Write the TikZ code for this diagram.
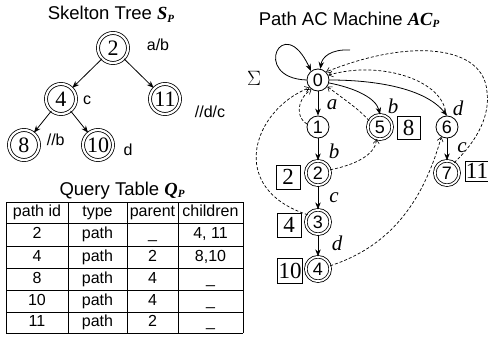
\documentclass[tikz,border=0pt]{standalone}
\usepackage{fontspec}
\setmainfont{Liberation Serif}
\newfontfamily\sansf{Liberation Sans}
\usetikzlibrary{arrows.meta}

% bold italic serif symbol with a small bold italic subscript
\newcommand{\symsub}[2]{{\rmfamily\bfseries\itshape #1\raisebox{-0.35ex}{\fontsize{11}{11}\selectfont #2}}}

\begin{document}
\begin{tikzpicture}[x=1pt,y=-1pt,line width=0.8pt,
  tip/.tip={Stealth[length=7pt,width=5.5pt]},
  barb/.tip={Straight Barb[length=4pt,width=6pt,line width=0.6pt]},
  ttl/.style={font=\sansf\fontsize{18.5}{18.5}\selectfont,anchor=base,inner sep=0pt},
  treenode/.style={circle,draw,double,double distance=2.2pt,minimum size=30pt,inner sep=0pt,
    font=\fontsize{22}{22}\selectfont},
  tlabel/.style={font=\sansf\fontsize{16}{16}\selectfont,inner sep=0pt},
  tedge/.style={-tip,shorten >=0.5pt},
  acnode/.style={circle,draw,minimum size=22pt,inner sep=0pt,font=\sansf\fontsize{18}{18}\selectfont},
  acfinal/.style={acnode,double,double distance=1.8pt,minimum size=24.4pt},
  idbox/.style={draw,rectangle,inner sep=0pt,font=\fontsize{23}{23}\selectfont},
  sym/.style={font=\itshape\fontsize{21}{21}\selectfont,inner sep=0pt},
  goto/.style={-tip},
  fail/.style={-barb,dashed,dash pattern=on 3pt off 2pt,line width=0.7pt},
  cell/.style={font=\sansf\fontsize{16}{16}\selectfont,inner sep=0pt,text height=11.5pt,text depth=3.5pt},
  grid/.style={line width=0.9pt}]

\useasboundingbox (0,0) rectangle (488,340);

% ---------- titles ----------
\node[ttl] (t1) at (111,19.5) {Skelton Tree \symsub{S}{P}};
\node[ttl] (t2) at (122,195) {Query Table \symsub{Q}{P}};
\node[ttl] (t3) at (349,25) {Path AC Machine \symsub{AC}{P}};

% ---------- skeleton tree ----------
\node[tlabel] (l2)  at (158,45)  {a/b};
\node[tlabel] (l4)  at (87,100)  {c};
\node[tlabel] (l11) at (210,112) {//d/c};
\node[tlabel,anchor=east] (l8) at (65,140) {//b};
\node[tlabel] (l10) at (128,150) {d};

\node[treenode] (s2)  at (113,48) {2};
\node[treenode] (s4)  at (61,99)  {4};
\node[treenode] (s11) at (165,99) {11};
\node[treenode,fill=white] (s8)  at (24,145) {8};
\node[treenode] (s10) at (98,145) {10};

\draw[tedge] (s2) -- (s4);
\draw[tedge] (s2) -- (s11);
\draw[tedge] (s4) -- (s8);
\draw[tedge] (s4) -- (s10);

% ---------- query table ----------
\foreach \y in {202,223.5,246,268,290,312,333}
  \draw[grid] (6,\y) -- (243,\y);
\foreach \x in {6,68,127,178,243}
  \draw[grid] (\x,202) -- (\x,333);

\foreach \r/\y/\a/\b/\c/\d in {
    0/212.7/path id/type/parent/children,
    1/234.7/2/path/\_/{4, 11},
    2/257/4/path/2/{8,10},
    3/279/8/path/4/\_,
    4/301/10/path/4/\_,
    5/322.5/11/path/2/\_}{
  \node[cell] (c\r a) at (37,\y)    {\a};
  \node[cell] (c\r b) at (97.5,\y)  {\b};
  \node[cell] (c\r c) at (152.5,\y) {\c};
  \node[cell] (c\r d) at (210.5,\y) {\d};
}

% ---------- path AC machine ----------
\node[acnode]  (a0) at (318,80)  {0};
\node[acnode]  (a1) at (318,127) {1};
\node[acfinal] (a2) at (318,173) {2};
\node[acfinal] (a3) at (318,222) {3};
\node[acfinal] (a4) at (318,269) {4};
\node[acfinal] (a5) at (380,127) {5};
\node[acnode]  (a6) at (447,127) {6};
\node[acfinal] (a7) at (447,173) {7};

\node[idbox,minimum width=23pt,minimum height=23pt] (b8)  at (408.5,128) {8};
\node[idbox,minimum width=24pt,minimum height=24pt] (b2)  at (288,177) {2};
\node[idbox,minimum width=24pt,minimum height=24pt] (b4)  at (289,225) {4};
\node[idbox,minimum width=25pt,minimum height=25pt] (b10) at (290,271) {10};
\node[idbox,minimum width=24pt,minimum height=20pt] (b11) at (477,171) {11};

\node[font=\fontsize{20}{20}\selectfont,inner sep=0pt] (sigma) at (254,78) {$\Sigma$};

\node[sym] (la) at (332,105) {a};
\node[sym] (lb1) at (334,151) {b};
\node[sym] (lc1) at (334,198) {c};
\node[sym] (ld1) at (337,243) {d};
\node[sym] (lb2) at (393,106) {b};
\node[sym] (ld2) at (458,108) {d};
\node[sym] (lc2) at (462,148) {c};

% goto transitions
\draw[goto] (a0.180) .. controls (250,78) and (283,10) .. (a0.128);
\coordinate (ent) at (350,50);
\draw[goto] (ent) .. controls (331,49) and (322,57) .. (a0.78);
\draw[goto] (a0) -- (a1);
\draw[goto] (a1) -- (a2);
\draw[goto] (a2) -- (a3);
\draw[goto] (a3) -- (a4);
\draw[goto] (a6) -- (a7);
\draw[goto] (a0.-15) .. controls (355,88) and (376,98) .. (a5.north);
\draw[goto] (a0.0) .. controls (375,80) and (425,88) .. (a6.north);

% failure transitions
\draw[fail] (a1.165) .. controls (296,118) and (296,100) .. (a0.235);
\draw[fail] (a3.145) .. controls (226,188) and (253,110) .. (a0.222);
\draw[fail] (a5.150) .. controls (360,110) and (345,100) .. (a0.-35);
\draw[fail] (a2.15) .. controls (355,165) and (375,155) .. (a5.-105);
\draw[fail] (a4.15) .. controls (395,245) and (425,195) .. (a6.240);
\draw[fail] (a6.95) .. controls (445,80) and (380,60) .. (a0.25);
\draw[fail] (a7.55) .. controls (478,140) and (490,115) .. (487,92)
                    .. controls (484,45) and (410,38) .. (a0.45);
\end{tikzpicture}
\end{document}
